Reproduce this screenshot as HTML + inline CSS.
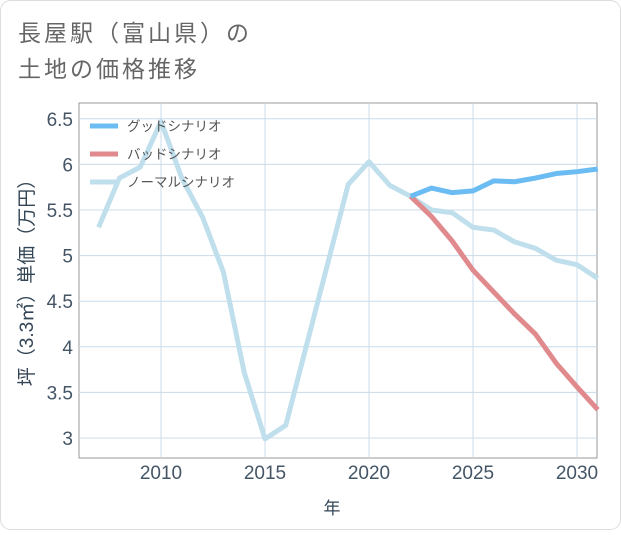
<!DOCTYPE html>
<html><head><meta charset="utf-8"><style>
body{margin:0;background:#fff;}
svg text{font-family:"Liberation Sans","Noto Sans CJK JP",sans-serif;}
</style></head><body>
<svg width="621" height="530">
<rect x="0.5" y="0.5" width="620" height="529" rx="10" fill="#fff" stroke="#ddd"/>
<text x="18" y="41" font-size="23" letter-spacing="3" fill="#666">長屋駅（富山県）の</text>
<text x="18" y="77" font-size="23" letter-spacing="3" fill="#666">土地の価格推移</text>
<rect x="79" y="103" width="518" height="355" fill="#fff" stroke="#999"/>
<g id="grid"></g><g id="series"></g><g id="axes"></g>
<text transform="translate(33,278) rotate(-90)" text-anchor="middle" font-size="19" fill="#345">坪（3.3㎡）単価（万円）</text>
<text x="332" y="514" text-anchor="middle" font-size="17" fill="#345">年</text>
<g>
<line x1="90" y1="126" x2="118" y2="126" stroke="#6bbcf2" stroke-width="5"/>
<text x="127" y="131" font-size="13.5" fill="#555">グッドシナリオ</text>
<line x1="90" y1="154" x2="118" y2="154" stroke="#e08a8e" stroke-width="5"/>
<text x="127" y="159" font-size="13.5" fill="#555">バッドシナリオ</text>
<line x1="90" y1="182" x2="118" y2="182" stroke="#c0dfec" stroke-width="5"/>
<text x="127" y="187" font-size="13.5" fill="#555">ノーマルシナリオ</text>
</g>
</svg>
<script>
const years=[2007,2008,2009,2010,2011,2012,2013,2014,2015,2016,2017,2018,2019,2020,2021,2022,2023,2024,2025,2026,2027,2028,2029,2030,2031];
const normal=[5.31,5.85,5.97,6.47,5.85,5.42,4.82,3.72,2.99,3.14,4.02,4.90,5.78,6.03,5.77,5.65,5.50,5.47,5.31,5.28,5.15,5.08,4.95,4.90,4.75];
const goodYears=[2022,2023,2024,2025,2026,2027,2028,2029,2030,2031];
const good=[5.65,5.74,5.69,5.71,5.82,5.81,5.85,5.90,5.92,5.95];
const bad=[5.65,5.43,5.16,4.84,4.60,4.36,4.14,3.82,3.56,3.31];
const xTicks=[2010,2015,2020,2025,2030];
const yTicks=[3,3.5,4,4.5,5,5.5,6,6.5];
const yTickLabels=["3","3.5","4","4.5","5","5.5","6","6.5"];
const NS="http://www.w3.org/2000/svg";
const X=v=>161+(v-2010)*20.8;
const Y=v=>438-(v-3)*91.2;
function mk(t,a,p){const e=document.createElementNS(NS,t);for(const k in a)e.setAttribute(k,a[k]);document.getElementById(p).appendChild(e);return e;}
xTicks.forEach((t,i)=>{
 const l=mk('line',{x1:X(t),x2:X(t),y1:103,y2:458,stroke:'#c8dcea'},'grid');
 
 
 const tx=mk('text',{x:X(t),y:479,'text-anchor':'middle','font-size':19,fill:'#456'},'axes');
 tx.textContent=t;
 
 
});
yTicks.forEach((t,i)=>{
 const l=mk('line',{x1:79,x2:597,y1:Y(t),y2:Y(t),stroke:'#c8dcea'},'grid');
 
 
 const tx=mk('text',{x:73,y:Y(t)+7,'text-anchor':'end','font-size':19,fill:'#456'},'axes');
 tx.textContent=yTickLabels[i];
 
 
});
function line(xs,ys,color,name){
 const p=mk('polyline',{points:xs.map((x,i)=>X(x)+','+Y(ys[i])).join(' '),fill:'none',stroke:color,'stroke-width':5,'stroke-linejoin':'round'},'series');
 
 
}
line(years,normal,'#c0dfec','normal-scenario-line');
line(goodYears,bad,'#e08a8e','bad-scenario-line');
line(goodYears,good,'#6bbcf2','good-scenario-line');
</script>
</body></html>
